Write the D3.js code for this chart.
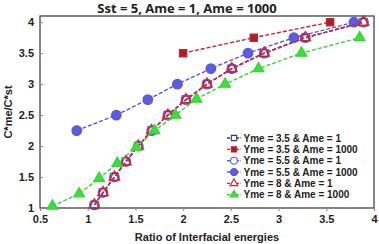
<!DOCTYPE html>
<html>
<head>
<meta charset="utf-8">
<script src="https://cdn.jsdelivr.net/npm/d3@7"></script>
<style>
  body { margin: 0; background: #fff; }
  text { font-family: 'Liberation Sans', Arial, sans-serif; font-weight: bold; }
</style>
</head>
<body>
<svg id="chart" width="379" height="244"></svg>
<script>
// values
const xTicks = [0.5, 1, 1.5, 2, 2.5, 3, 3.5, 4]
const yTicks = [1, 1.5, 2, 2.5, 3, 3.5, 4]

const ame1X = [1.07, 1.16, 1.28, 1.40, 1.53, 1.67, 1.84, 2.03, 2.25, 2.51, 2.85, 3.28, 3.89]
const ame1Y = [1.05, 1.25, 1.5, 1.75, 2.0, 2.25, 2.5, 2.75, 3.0, 3.25, 3.5, 3.75, 4.0]
const y35a1000X = [2.0, 2.74, 3.54]
const y35a1000Y = [3.5, 3.75, 4.0]
const y55a1000X = [0.885, 1.30, 1.63, 1.94, 2.29, 2.68, 3.16, 3.79]
const y55a1000Y = [2.25, 2.5, 2.75, 3.0, 3.25, 3.5, 3.75, 4.0]
const y8a1000X = [0.63, 0.91, 1.12, 1.31, 1.51, 1.70, 1.92, 2.14, 2.44, 2.79, 3.24, 3.85]
const y8a1000Y = [1.03, 1.23, 1.48, 1.72, 1.98, 2.25, 2.5, 2.76, 3.0, 3.25, 3.5, 3.75]

const series = [
  { name: 'Yme = 3.5 & Ame = 1', xs: ame1X, ys: ame1Y, shape: 'square', color: '#2a3a96', fill: 'none' },
  { name: 'Yme = 3.5 & Ame = 1000', xs: y35a1000X, ys: y35a1000Y, shape: 'square', color: '#c0262d', fill: '#a8212a' },
  { name: 'Yme = 5.5 & Ame = 1', xs: ame1X, ys: ame1Y, shape: 'circle', color: '#5b5be0', fill: 'none' },
  { name: 'Yme = 5.5 & Ame = 1000', xs: y55a1000X, ys: y55a1000Y, shape: 'circle', color: '#5656dc', fill: '#5c5ce0' },
  { name: 'Yme = 8 & Ame = 1', xs: ame1X, ys: ame1Y, shape: 'triangle', color: '#e0202a', fill: 'none' },
  { name: 'Yme = 8 & Ame = 1000', xs: y8a1000X, ys: y8a1000Y, shape: 'triangle', color: '#33d633', fill: '#3fdc3f' }
]

const svg = d3.select('#chart')
const margin = { left: 40, right: 5, top: 16, bottom: 36 }
const W = 379, H = 244

const x = d3.scaleLinear().domain([0.5, 4]).range([margin.left, W - margin.right])
const y = d3.scaleLinear().domain([1, 4.1]).range([H - margin.bottom, margin.top])

// plot frame
svg.append('rect')
  .attr('x', x(0.5)).attr('y', y(4.1))
  .attr('width', x(4) - x(0.5)).attr('height', y(1) - y(4.1))
  .style('fill', 'none').style('stroke', '#444').style('stroke-width', 1.3)

const xAxis = svg.append('g').attr('transform', `translate(0,${y(1)})`)
  .call(d3.axisBottom(x).tickValues(xTicks).tickSize(3).tickFormat(d3.format('')))
const yAxis = svg.append('g').attr('transform', `translate(${x(0.5)},0)`)
  .call(d3.axisRight(y).tickValues(yTicks).tickSize(3).tickFormat(d3.format('')))
xAxis.select('.domain').remove()
yAxis.select('.domain').remove()
xAxis.selectAll('line').style('stroke', '#888')
yAxis.selectAll('line').style('stroke', '#888')
xAxis.selectAll('text').attr('y', 7).style('font-size', '11px').style('fill', '#222')
yAxis.selectAll('text').attr('x', -6).style('text-anchor', 'end').style('font-size', '11px').style('fill', '#222')

const line = d3.line().x(d => x(d[0])).y(d => y(d[1]))
const sym = { square: d3.symbolSquare, circle: d3.symbolCircle, triangle: d3.symbolTriangle }
const size = { square: 52, circle: 70, triangle: 48 }

const drawMarker = (g, s, px, py) => {
  g.append('path')
    .attr('d', d3.symbol().type(sym[s.shape]).size(size[s.shape])())
    .attr('transform', `translate(${px},${py})`)
    .style('fill', s.fill === 'none' ? 'none' : s.fill)
    .style('stroke', s.color).style('stroke-width', 1.3)
}

const gData = svg.append('g')
series.forEach(s => {
  const pts = s.xs.map((v, i) => [v, s.ys[i]])
  gData.append('path').datum(pts).attr('d', line)
    .style('fill', 'none').style('stroke', s.color).style('stroke-width', 1.4)
    .style('stroke-dasharray', '4,2')
  pts.forEach(p => drawMarker(gData, s, x(p[0]), y(p[1])))
})

// legend
const legend = svg.append('g')
series.forEach((s, i) => {
  const ly = 138 + i * 11.35
  legend.append('line').attr('x1', 227).attr('x2', 241).attr('y1', ly).attr('y2', ly)
    .style('stroke', s.color).style('stroke-width', 1.4).style('stroke-dasharray', '3,1.5')
  const g = legend.append('g')
  g.append('path')
    .attr('d', d3.symbol().type(sym[s.shape]).size(size[s.shape] * 0.55)())
    .attr('transform', `translate(234,${ly})`)
    .style('fill', s.fill === 'none' ? '#fff' : s.fill)
    .style('stroke', s.color).style('stroke-width', 1.1)
  legend.append('text').attr('x', 243.5).attr('y', ly + 3.6)
    .style('font-size', '10px').style('fill', '#222').text(s.name)
})

// titles
svg.append('text').attr('x', 187).attr('y', 13).attr('text-anchor', 'middle')
  .style('font-family', "'Open Sans', sans-serif").style('font-size', '13px').style('fill', '#222')
  .text('Sst = 5, Ame = 1, Ame = 1000')
svg.append('text').attr('x', 207).attr('y', 241).attr('text-anchor', 'middle')
  .style('font-size', '11px').style('fill', '#222').text('Ratio of Interfacial energies')
svg.append('text').attr('transform', 'translate(12,112) rotate(-90)').attr('text-anchor', 'middle')
  .style('font-size', '11px').style('fill', '#222').text('C*me/C*st')
</script>
</body>
</html>
